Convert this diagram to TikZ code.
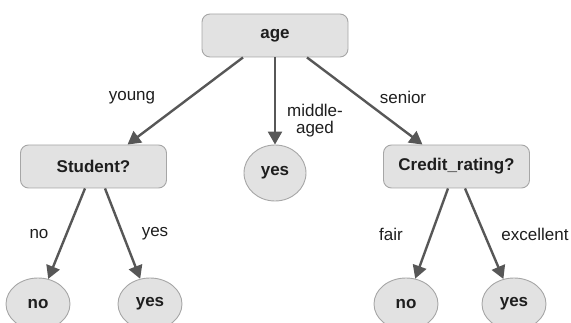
\documentclass[tikz,border=0pt]{standalone}
\usepackage{fontspec}
\setmainfont{Liberation Sans}
\usetikzlibrary{arrows.meta,shapes.geometric}
\definecolor{nodefill}{HTML}{E2E2E2}
\definecolor{nodeline}{HTML}{A6A6A6}
\definecolor{edgecol}{HTML}{575757}
\definecolor{txt}{HTML}{1E1E1E}
\begin{document}
\begin{tikzpicture}[x=1pt,y=-1pt,
  font=\fontsize{17}{16.5}\selectfont,
  test/.style={draw=nodeline,line width=0.9pt,fill=nodefill,rounded corners=8pt,
    minimum width=146pt,minimum height=43pt,inner sep=0pt,text=txt,font=\fontsize{17}{16.5}\selectfont\bfseries},
  leaf/.style={draw=nodeline,line width=0.9pt,fill=nodefill,ellipse,
    minimum width=64pt,minimum height=52pt,inner sep=0pt,text=txt,font=\fontsize{17}{16.5}\selectfont\bfseries},
  edge/.style={draw=edgecol,line width=2.4pt,-{Triangle[length=13pt,width=14pt]}},
  lbl/.style={text=txt,inner sep=0pt,align=center}]
\useasboundingbox (0,0) rectangle (571,323);

% decision nodes
\node[test] (age) at (275,35.5) {age};
\node[test] (stu) at (93.5,166.5) {Student?};
\node[test] (cred) at (456.5,166.5) {Credit\_rating?};

% leaves
\node[leaf,minimum width=62pt,minimum height=56pt] (mid) at (275,173) {yes};
\node[leaf] (sno) at (38,304) {no};
\node[leaf] (syes) at (150,304) {yes};
\node[leaf] (cno) at (406,304) {no};
\node[leaf] (cyes) at (514,304) {yes};

% branches from the root
\draw[edge] ([xshift=-32pt]age.south) -- ([xshift=34pt]stu.north);
\draw[edge] (age.south) -- (mid.north);
\draw[edge] ([xshift=32pt]age.south) -- ([xshift=-34pt]cred.north);

% branches from the inner tests
\draw[edge] ([xshift=-8.5pt]stu.south) -- (sno);
\draw[edge] ([xshift=11.5pt]stu.south) -- (syes);
\draw[edge] ([xshift=-8.5pt]cred.south) -- (cno);
\draw[edge] ([xshift=8.5pt]cred.south) -- (cyes);

% branch labels
\node[lbl] (lyoung) at (132,98) {young};
\node[lbl] (lmid) at (315,120.5) {middle-\\aged};
\node[lbl] (lsen) at (403,97) {senior};
\node[lbl] (lno) at (39,234) {no};
\node[lbl] (lyes) at (155,234) {yes};
\node[lbl] (lfair) at (391,234) {fair};
\node[lbl] (lexc) at (535,234) {excellent};
\end{tikzpicture}
\end{document}
